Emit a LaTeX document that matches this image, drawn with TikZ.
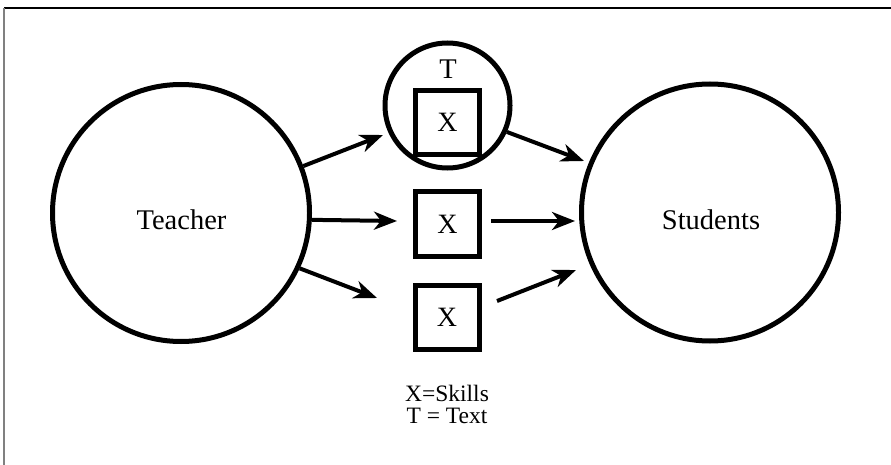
\documentclass[tikz,border=0pt]{standalone}
\usepackage{fontspec}
\setmainfont{Liberation Serif}
\usetikzlibrary{arrows.meta}
\begin{document}
\begin{tikzpicture}[x=1pt,y=-1pt,
  bigcirc/.style={circle, draw, line width=5pt, minimum size=257pt, inner sep=0pt},
  tcirc/.style={circle, draw, line width=5pt, minimum size=125pt, inner sep=0pt},
  xbox/.style={rectangle, draw, line width=5pt, minimum size=64pt, inner sep=0pt, font=\fontsize{28}{32}\selectfont},
  lbl/.style={font=\fontsize{28.5}{32}\selectfont, inner sep=0pt},
  legendtxt/.style={font=\fontsize{23.5}{24}\selectfont, inner sep=0pt},
  arr/.style={line width=4pt, -{Stealth[length=23pt, width=18pt, inset=7pt]}}]
\useasboundingbox (0,0) rectangle (891,465);
% frame
\coordinate (ftl) at (4,8);
\coordinate (ftr) at (891,8);
\coordinate (fbl) at (4,465);
\draw[line width=1.2pt, black] (ftl) -- (ftr);
\draw[line width=1.8pt, gray] (ftl) -- (fbl);
% nodes
\node[bigcirc] (teacher) at (181,213) {};
\node[lbl] (teachertxt) at (181.5,220) {Teacher};
\node[bigcirc] (students) at (710,212.5) {};
\node[lbl] (studentstxt) at (711,220) {Students};
\node[tcirc] (tc) at (447.5,105.5) {};
\node[lbl] (tlabel) at (448,69) {T};
\node[xbox] (b1) at (447.5,122.5) {X};
\node[xbox] (b2) at (447.5,224) {X};
\node[xbox] (b3) at (447,317.5) {X};
\node[legendtxt] (leg1) at (447,393) {X=Skills};
\node[legendtxt] (leg2) at (447,416) {T = Text};
% arrow ends
\coordinate (e1) at (383,135);
\coordinate (e2) at (397,221);
\coordinate (e3) at (377,298);
\coordinate (e4) at (584,161);
\coordinate (s5) at (491,221);
\coordinate (e5) at (575,221);
\coordinate (s6) at (497,301);
\coordinate (e6) at (576,270);
% arrows
\draw[arr] (teacher.21) -- (e1);
\draw[arr] (teacher.-3.5) -- (e2);
\draw[arr] (teacher.-25.6) -- (e3);
\draw[arr] (tc.-24) -- (e4);
\draw[arr] (s5) -- (e5);
\draw[arr] (s6) -- (e6);
\end{tikzpicture}
\end{document}
